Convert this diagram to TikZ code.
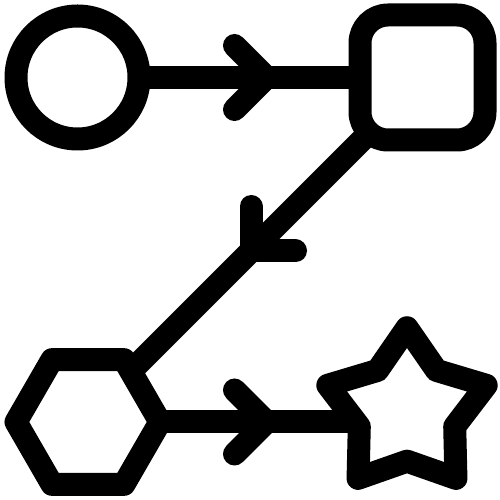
\documentclass[tikz,border=0pt]{standalone}
\usetikzlibrary{shapes.geometric,calc}
\pgfdeclarelayer{paper}
\pgfdeclarelayer{wires}
\pgfsetlayers{paper,wires,main}
\begin{document}
\begin{tikzpicture}[x=0.2mm,y=0.2mm,
  shapebox/.style={draw=black,fill=white,line width=4.6mm,line join=round,inner sep=0pt,outer sep=0pt},
  conn/.style={draw=black,line width=4.6mm,line cap=butt},
  chev/.style={draw=black,line width=4.6mm,line cap=round,line join=round}]
\begin{pgfonlayer}{paper}
\useasboundingbox[fill=white] (0,0) rectangle (500,500);
\end{pgfonlayer}
\node[shapebox,circle,minimum size=24.6mm] (circ) at (77.5,422.5) {};
\node[shapebox,rectangle,rounded corners=5.6mm,minimum size=25mm] (sq) at (422.5,422.5) {};
\node[shapebox,regular polygon,regular polygon sides=6,minimum size=28.8mm] (hex) at (88,78) {};
\node[shapebox,star,star points=5,star point ratio=1.66,minimum size=33.3mm] (star) at (407,89) {};
\begin{pgfonlayer}{wires}
\draw[conn] (circ.center) -- (sq.center);
\draw[conn] ($(sq.south west)+(30,28)$) -- ($(hex.center)+(20,28)$);
\draw[conn] (hex.center) -- (hex.center -| star.center);
\end{pgfonlayer}
\coordinate (t) at (266.5,422.5);
\coordinate (b) at (266.5,78);
\coordinate (d) at (251,249);
\draw[chev] ($(t)+(-32,32)$) -- (t) -- ($(t)+(-32,-32)$);
\draw[chev] ($(b)+(-32,32)$) -- (b) -- ($(b)+(-32,-32)$);
\draw[chev] ($(d)+(0,44.5)$) -- (d) -- ($(d)+(44.5,0)$);
\end{tikzpicture}
\end{document}
